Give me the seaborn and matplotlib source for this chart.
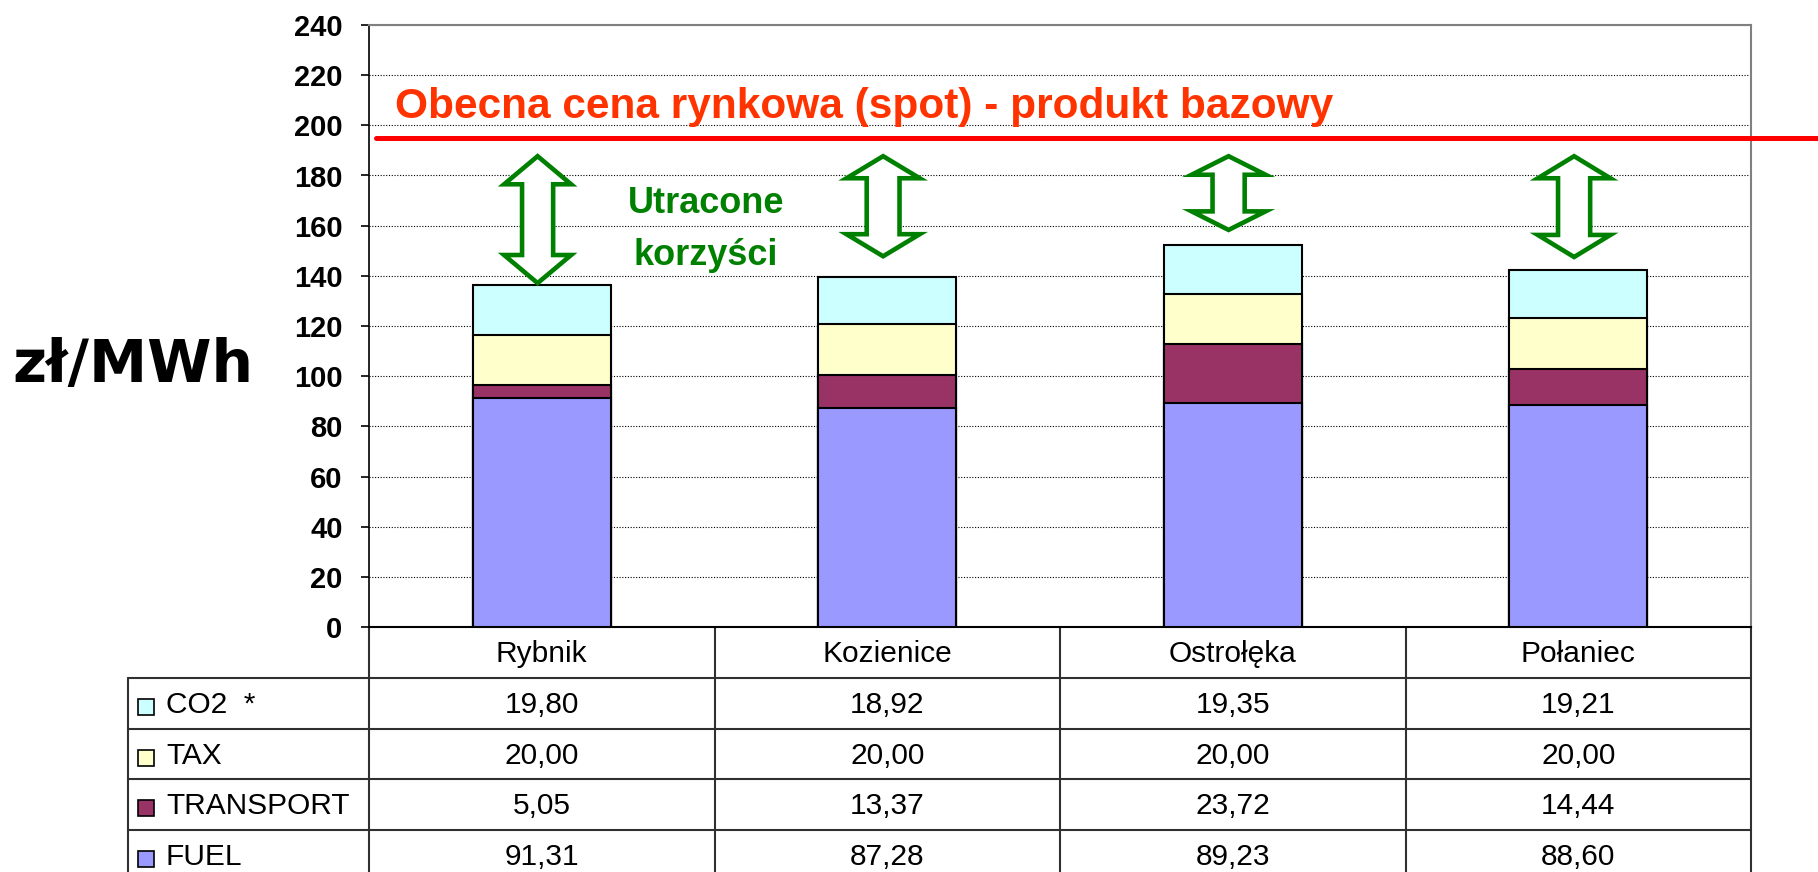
import numpy as np
import pandas as pd
import matplotlib.pyplot as plt
import matplotlib.patches as mpatches
import seaborn as sns

plants = ['Rybnik', 'Kozienice', 'Ostrołęka', 'Połaniec']
fuel = [91.31, 87.28, 89.23, 88.60]
transport = [5.05, 13.37, 23.72, 14.44]
tax = [20.00, 20.00, 20.00, 20.00]
co2 = [19.80, 18.92, 19.35, 19.21]

spot_price = 195
spot_label = 'Obecna cena rynkowa (spot) - produkt bazowy'
gap_label = 'Utracone\nkorzyści'
gap_top = [188.5, 188.5, 188.5, 188.5]
gap_bottom = [136.3, 147.0, 157.5, 146.7]

series_names = ['FUEL', 'TRANSPORT', 'TAX', 'CO2']
series_colors = ['#9999FF', '#993366', '#FFFFCC', '#CCFFFF']
table_labels = {'CO2': 'CO2  *', 'TAX': 'TAX', 'TRANSPORT': 'TRANSPORT', 'FUEL': 'FUEL'}

sns.set_theme(style='white')
plt.rcParams['font.family'] = ['Liberation Sans', 'DejaVu Sans']
plt.rcParams['text.color'] = 'black'
plt.rcParams['axes.labelcolor'] = 'black'
plt.rcParams['ytick.color'] = 'black'
plt.rcParams['xtick.color'] = 'black'

df = pd.DataFrame({'plant': plants, 'FUEL': fuel, 'TRANSPORT': transport, 'TAX': tax, 'CO2': co2})
cum = df[series_names].cumsum(axis=1)
cum['plant'] = plants

W, H = 1818, 872
fig = plt.figure(figsize=(W / 100, H / 100), dpi=100)
ax_l, ax_r, ax_t, ax_b = 369, 1751, 25, 627
ax = fig.add_axes([ax_l / W, 1 - ax_b / H, (ax_r - ax_l) / W, (ax_b - ax_t) / H])

# stacked bars: draw cumulative totals from the top layer down
for name, color in reversed(list(zip(series_names, series_colors))):
    sns.barplot(data=cum, x='plant', y=name, color=color, saturation=1, width=0.4,
                edgecolor='black', linewidth=1.5, ax=ax, zorder=3)

ax.set_xlim(-0.5, 3.5)
ax.set_ylim(0, 240)
ax.set_yticks(np.arange(0, 241, 20))
ax.set_xlabel('')
ax.set_ylabel('')
ax.tick_params(axis='x', bottom=False, labelbottom=False)
ax.tick_params(axis='y', left=True, length=6, width=1.2, color='black', labelcolor='black',
               pad=13, labelsize=21)
for lab in ax.get_yticklabels():
    lab.set_fontweight('bold')
ax.set_axisbelow(True)
ax.yaxis.grid(True, color='black', linestyle=(0, (1, 1.5)), linewidth=0.8)
ax.spines['left'].set_color('black')
ax.spines['left'].set_linewidth(1.2)
ax.spines['bottom'].set_color('black')
ax.spines['bottom'].set_linewidth(1.5)
for s in ['top', 'right']:
    ax.spines[s].set_color('#808080')
    ax.spines[s].set_linewidth(1.5)

# market price line, runs past the plot to the right edge
ax.axhline(spot_price, xmin=7 / (ax_r - ax_l), xmax=(W - ax_l) / (ax_r - ax_l),
           color='red', lw=3.6, clip_on=False, zorder=4)
ax.text(-0.425, 203, spot_label, color='#FF3300', fontsize=30.5, fontweight='bold',
        ha='left', va='baseline')


def double_arrow(ax, x, y0, y1, head_w, shaft_w, head_len):
    pts = [(x, y1), (x + head_w / 2, y1 - head_len), (x + shaft_w / 2, y1 - head_len),
           (x + shaft_w / 2, y0 + head_len), (x + head_w / 2, y0 + head_len), (x, y0),
           (x - head_w / 2, y0 + head_len), (x - shaft_w / 2, y0 + head_len),
           (x - shaft_w / 2, y1 - head_len), (x - head_w / 2, y1 - head_len)]
    ax.add_patch(mpatches.Polygon(pts, closed=True, facecolor='white', edgecolor='#008000',
                                  lw=3.3, joinstyle='miter', zorder=5))


arrow_head_w = [0.194, 0.212, 0.214, 0.21]
arrow_shaft_w = [0.09, 0.095, 0.093, 0.093]
arrow_head_len = [11.2, 8.8, 7.4, 8.8]
for i in range(len(plants)):
    double_arrow(ax, i - 0.012, gap_bottom[i] + 0.8, gap_top[i] - 0.8,
                 arrow_head_w[i], arrow_shaft_w[i], arrow_head_len[i])

ax.text(0.475, 158.5, gap_label, color='#008000', fontsize=26, fontweight='bold',
        ha='center', va='center', linespacing=1.62)

fig.text(12 / W, 1 - 365 / H, 'zł/MWh', fontsize=42, fontweight='bold',
         family='DejaVu Sans', color='black', ha='left', va='center')

# data table under the plot, drawn in pixel space
tab = fig.add_axes([0, 0, 1, 1], zorder=-1)
tab.set_xlim(0, W)
tab.set_ylim(H, 0)
tab.axis('off')

col_edges = np.linspace(ax_l, ax_r, len(plants) + 1)
row_h = 50.5
header_bottom = 678
table_left = 128
line_kw = dict(color='#303030', lw=1.5)
n_rows = len(series_names)
row_edges = header_bottom + row_h * np.arange(n_rows + 1)

for x in col_edges:
    tab.plot([x, x], [ax_b, row_edges[-1]], **line_kw)
tab.plot([table_left, table_left], [header_bottom, row_edges[-1]], **line_kw)
for y in row_edges[:-1]:
    tab.plot([table_left, ax_r], [y, y], **line_kw)

for j, name in enumerate(plants):
    xc = (col_edges[j] + col_edges[j + 1]) / 2
    tab.text(xc, (ax_b + header_bottom) / 2 + 1, name, fontsize=21.5, ha='center', va='center')

table_order = list(reversed(series_names))
color_of = dict(zip(series_names, series_colors))
values = {'FUEL': fuel, 'TRANSPORT': transport, 'TAX': tax, 'CO2': co2}
for r, name in enumerate(table_order):
    yc = (row_edges[r] + row_edges[r + 1]) / 2 + 2
    tab.add_patch(mpatches.Rectangle((138, yc - 6), 16, 16, facecolor=color_of[name],
                                     edgecolor='black', lw=1.2))
    tab.text(166, yc, table_labels[name], fontsize=21.5, ha='left', va='center')
    for j in range(len(plants)):
        xc = (col_edges[j] + col_edges[j + 1]) / 2
        txt = f'{values[name][j]:.2f}'.replace('.', ',')
        tab.text(xc, yc, txt, fontsize=21.5, ha='center', va='center')

fig.savefig('out.png', dpi=100)
